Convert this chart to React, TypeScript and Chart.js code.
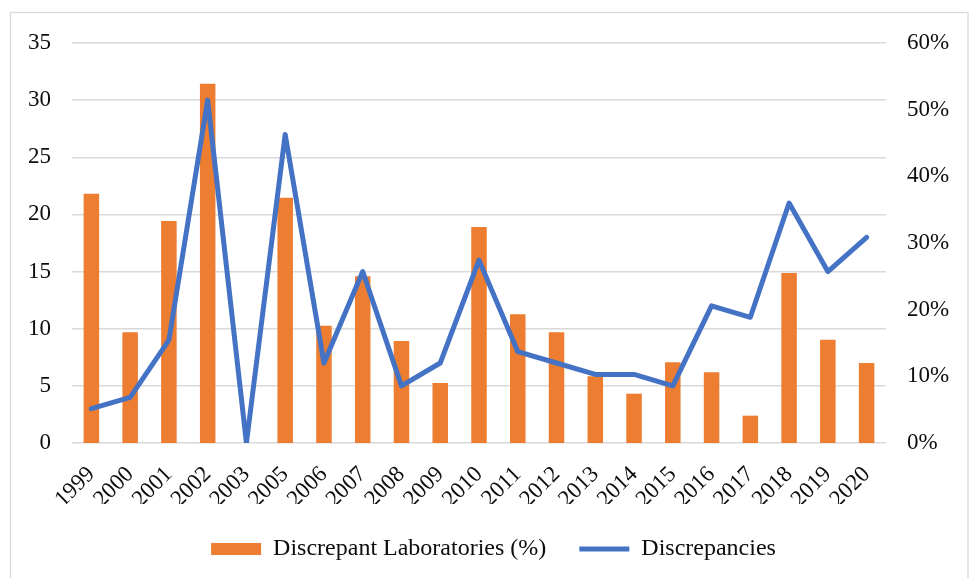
import React, { useEffect, useRef } from "react";
import { Chart, registerables } from "chart.js";

Chart.register(...registerables);

const years = ["1999", "2000", "2001", "2002", "2003", "2005", "2006", "2007", "2008", "2009", "2010", "2011", "2012", "2013", "2014", "2015", "2016", "2017", "2018", "2019", "2020"];
const discrepantLabsPct = [37.4, 16.6, 33.3, 53.9, 0, 36.8, 17.6, 25.0, 15.3, 9.0, 32.4, 19.3, 16.6, 10.0, 7.4, 12.1, 10.6, 4.1, 25.5, 15.5, 12.0];
const discrepancies = [3, 4, 9, 30, 0, 27, 7, 15, 5, 7, 16, 8, 7, 6, 6, 5, 12, 11, 21, 15, 18];

const FONT = "'Liberation Serif', 'Times New Roman', serif";
const TEXT = "#0d0d0d";
const GRID = "#d9d9d9";

const borderPlugin = {
  id: "outerBorder",
  beforeDraw(chart: any) {
    const ctx = chart.ctx;
    ctx.save();
    ctx.fillStyle = "#ffffff";
    ctx.fillRect(0, 0, chart.width, chart.height);
    ctx.strokeStyle = GRID;
    ctx.lineWidth = 1.3;
    ctx.strokeRect(10.5, 12.5, 957.5, 600);
    ctx.restore();
  },
};

export default function App() {
  const ref = useRef<HTMLCanvasElement | null>(null);

  useEffect(() => {
    if (!ref.current) return;
    const chart = new Chart(ref.current, {
      type: "bar",
      data: {
        labels: years,
        datasets: [
          {
            type: "line",
            label: "Discrepancies",
            data: discrepancies,
            yAxisID: "y",
            borderColor: "#4472C4",
            backgroundColor: "#4472C4",
            borderWidth: 5,
            pointRadius: 0,
            tension: 0,
            borderJoinStyle: "round",
            borderCapStyle: "round",
            pointStyle: "line",
          } as any,
          {
            type: "bar",
            label: "Discrepant Laboratories (%)",
            data: discrepantLabsPct,
            yAxisID: "y1",
            backgroundColor: "#ED7D31",
            borderWidth: 0,
            barPercentage: 0.4,
            categoryPercentage: 1,
            pointStyle: "rect",
          } as any,
        ],
      },
      options: {
        responsive: false,
        animation: false,
        layout: { padding: { left: 18, right: 0, top: 43, bottom: 7 } },
        plugins: {
          tooltip: { enabled: false },
          legend: {
            position: "bottom",
            labels: {
              usePointStyle: true,
              pointStyleWidth: 50,
              boxHeight: 12,
              padding: 33,
              color: TEXT,
              font: { family: FONT, size: 24 },
              sort: (a: any, b: any) => b.datasetIndex - a.datasetIndex,
            },
          },
        },
        scales: {
          x: {
            offset: true,
            grid: { display: false, drawTicks: false },
            border: { display: false },
            ticks: {
              minRotation: 45,
              maxRotation: 45,
              autoSkip: false,
              padding: 18,
              color: TEXT,
              font: { family: FONT, size: 23 },
            },
            afterFit: (scale: any) => {
              scale.height = 61;
              scale.paddingLeft = 0;
              scale.paddingRight = 0;
            },
          },
          y: {
            position: "left",
            min: 0,
            max: 35,
            grid: { color: GRID, lineWidth: 1.5, drawTicks: false },
            border: { display: false },
            ticks: {
              stepSize: 5,
              padding: 21,
              color: TEXT,
              font: { family: FONT, size: 23 },
            },
            afterFit: (scale: any) => {
              scale.width = 54;
            },
          },
          y1: {
            position: "right",
            min: 0,
            max: 60,
            grid: { display: false, drawTicks: false },
            border: { display: false },
            ticks: {
              stepSize: 10,
              padding: 21,
              color: TEXT,
              font: { family: FONT, size: 23 },
              callback: (v: any) => v + "%",
            },
            afterFit: (scale: any) => {
              scale.width = 83;
            },
          },
        },
      },
      plugins: [borderPlugin],
    });
    return () => chart.destroy();
  }, []);

  return (
    <div style={{ position: "fixed", left: 0, top: 0, width: 969, height: 578, background: "#fff" }}>
      <canvas ref={ref} width={969} height={578} style={{ display: "block" }} />
    </div>
  );
}
